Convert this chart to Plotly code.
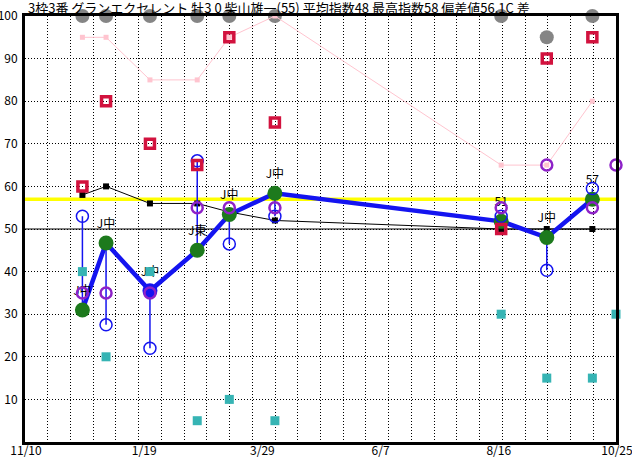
import plotly.graph_objects as go

# ---------------- data ----------------
title_text = "3枠3番 グランエクセレント 牡3 0 柴山雄一(55) 平均指数48 最高指数58 偏差値56.1C 差"

race_dates = ["2019-12-14", "2019-12-28", "2020-01-23", "2020-02-20", "2020-03-10",
              "2020-04-06", "2020-08-18", "2020-09-14", "2020-10-11"]
next_date = "2020-10-25"

index_values = [31.0, 46.7, 35.5, 45.0, 53.4, 58.4, 51.8, 48.0, 57.0]
low_values = [53.0, 27.5, 22.0, 66.0, 46.5, 53.0, 53.0, 40.3, 59.5]
race_labels = ["J中", "J中", "J中", "J東", "J中", "J中", "51", "J中", "57"]
purple_values = [35, 35, 35, 55, 55, 55, 55, 65, 55, 65]     # races + next
teal_values = [40, 20, 40, 5, 10, 5, 30, 15, 15, 30]          # races + next
red_values = [60, 80, 70, 65, 95, 75, 50, 90, 95]
black_values = [58, 60, 56, 56, 54, 52, 50, 50, 50]
pink_values = [95, 95, 85, 85, 95, 100, 65, 65, 80]
gray_values = [100, 100, 100, 100, 100, 100, 100, 95, 100]

deviation_line = 57
base_line = 50

axis_start = "2019-11-10"
axis_end = "2020-10-25"
tick_dates = ["2019-11-10", "2020-01-19", "2020-03-29", "2020-06-07", "2020-08-16", "2020-10-25"]
tick_text = ["11/10", "1/19", "3/29", "6/7", "8/16", "10/25"]
y_ticks = [10, 20, 30, 40, 50, 60, 70, 80, 90, 100]

# ---------------- styles ----------------
FONT = "Noto Sans CJK JP"
green = "#1d7a1d"
blue = "#1414f0"
purple = "#8e22c8"
crimson = "#d2123e"
teal = "#36b4b4"
pink = "#ffc4cf"
gray = "#858585"
index_marker_colors = [green, green, blue, green, green, green, green, green, green]

all_dates = race_dates + [next_date]

fig = go.Figure()

# reference lines
fig.add_trace(go.Scatter(x=[axis_start, axis_end], y=[deviation_line] * 2, mode="lines",
                         line=dict(color="#ffff00", width=3.5), hoverinfo="skip"))
fig.add_trace(go.Scatter(x=[axis_start, axis_end], y=[base_line] * 2, mode="lines",
                         line=dict(color="black", width=1), hoverinfo="skip"))

# gray circles (top)
fig.add_trace(go.Scatter(x=race_dates, y=gray_values, mode="markers", cliponaxis=False,
                         marker=dict(color=gray, size=14, line=dict(width=0))))

# pink line
fig.add_trace(go.Scatter(x=race_dates, y=pink_values, mode="lines+markers", cliponaxis=False,
                         line=dict(color=pink, width=1),
                         marker=dict(color=pink, size=5, symbol="square")))

# black line
fig.add_trace(go.Scatter(x=race_dates, y=black_values, mode="lines+markers",
                         line=dict(color="black", width=1),
                         marker=dict(color="black", size=6, symbol="square")))

# thin blue vertical ranges
vx, vy = [], []
for d, hi, lo in zip(race_dates, index_values, low_values):
    vx += [d, d, None]
    vy += [hi, lo, None]
fig.add_trace(go.Scatter(x=vx, y=vy, mode="lines", line=dict(color=blue, width=1.5),
                         hoverinfo="skip"))

# thick blue index line
fig.add_trace(go.Scatter(x=race_dates, y=index_values, mode="lines",
                         line=dict(color=blue, width=4.5)))

# green index markers
fig.add_trace(go.Scatter(x=race_dates, y=index_values, mode="markers",
                         marker=dict(color=index_marker_colors, size=15, line=dict(width=0))))

# race labels
fig.add_trace(go.Scatter(x=race_dates, y=index_values, mode="markers+text",
                         text=race_labels, textposition="top center",
                         textfont=dict(family=FONT, size=12, color="black"),
                         marker=dict(size=18, color="rgba(0,0,0,0)")))

# blue hollow circles
fig.add_trace(go.Scatter(x=race_dates, y=low_values, mode="markers",
                         marker=dict(symbol="circle-open", size=12, color=blue,
                                     line=dict(color=blue, width=1.5))))

# purple hollow circles
fig.add_trace(go.Scatter(x=all_dates, y=purple_values, mode="markers", cliponaxis=False,
                         marker=dict(symbol="circle-open", size=11, color=purple,
                                     line=dict(color=purple, width=2.5))))

# crimson squares
fig.add_trace(go.Scatter(x=race_dates, y=red_values, mode="markers",
                         marker=dict(symbol="square-open", size=9, color=crimson,
                                     line=dict(color=crimson, width=3.5))))

# teal squares
fig.add_trace(go.Scatter(x=all_dates, y=teal_values, mode="markers", cliponaxis=False,
                         marker=dict(symbol="square", size=9, color=teal, line=dict(width=0))))

fig.update_layout(
    width=632, height=460,
    margin=dict(l=25, r=16, t=16, b=18, autoexpand=False),
    paper_bgcolor="white", plot_bgcolor="white",
    showlegend=False,
    font=dict(family=FONT, size=12, color="black"),
    annotations=[dict(text=title_text, xref="paper", yref="paper", x=0, y=1,
                      xanchor="left", yanchor="bottom", showarrow=False, xshift=1, yshift=-3,
                      font=dict(family=FONT, size=13, color="black"))],
)

fig.update_xaxes(
    type="date", range=[axis_start, axis_end], automargin=False,
    tickmode="array", tickvals=tick_dates, ticktext=tick_text,
    showgrid=False, ticks="", ticklen=0, ticklabelshift=1, ticklabelstandoff=-4,
    ticklabeloverflow="allow",
    showline=True, linecolor="black", linewidth=3, mirror=True,
    zeroline=False,
    minor=dict(dtick=350 * 86400000 / 26, tick0=axis_start, showgrid=True,
               gridcolor="black", gridwidth=1, griddash="1px,2px", ticks=""),
    tickfont=dict(family=FONT, size=12),
)
fig.update_yaxes(
    range=[0, 100], tickmode="array", tickvals=y_ticks, automargin=False,
    showgrid=True, gridcolor="black", gridwidth=1, griddash="1px,2px",
    ticks="", ticklen=0, showline=True, linecolor="black", linewidth=3, mirror=True,
    zeroline=False, tickfont=dict(family=FONT, size=12), ticklabelstandoff=2,
)

fig.write_html("out.html", config={"displayModeBar": False},
               post_script="document.body.style.margin='0';document.body.style.padding='0';")
